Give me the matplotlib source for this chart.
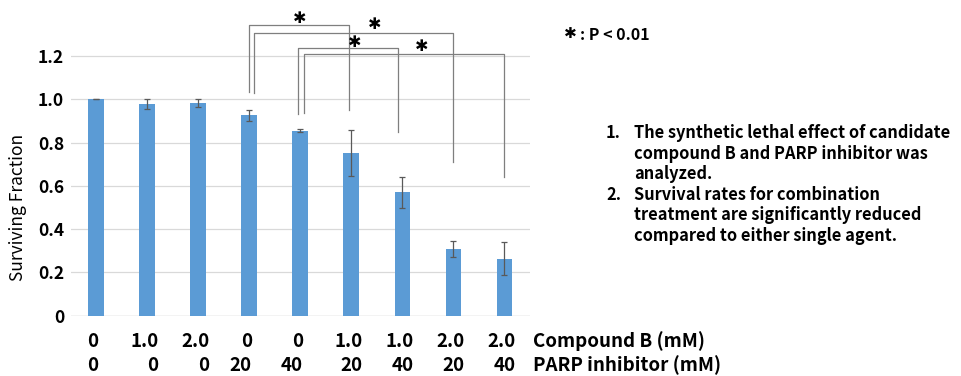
import matplotlib
matplotlib.use("Agg")
import matplotlib.pyplot as plt
from matplotlib.patches import Rectangle
from matplotlib.transforms import blended_transform_factory

plt.rcParams['font.family'] = ['Noto Sans CJK JP', 'DejaVu Sans']

# data
compound_b = ["0", "1.0", "2.0", "0", "0", "1.0", "1.0", "2.0", "2.0"]
parp = ["0", "0", "0", "20", "40", "20", "40", "20", "40"]
surviving = [1.000, 0.978, 0.983, 0.926, 0.855, 0.753, 0.570, 0.308, 0.263]
sd = [0.001, 0.021, 0.019, 0.025, 0.006, 0.106, 0.071, 0.038, 0.076]

# significance brackets (layout)
br_left = [3.0, 3.1, 3.95, 4.08]
br_right = [4.95, 7.0, 5.92, 8.0]
br_top = [1.342, 1.306, 1.238, 1.208]
br_left_end = [1.034, 1.030, 0.932, 0.935]
br_right_end = [0.951, 0.710, 0.849, 0.642]
star_x = [3.98, 5.46, 5.07, 6.37]
star_y = [1.374, 1.347, 1.263, 1.243]

W, H = 961, 376
fig = plt.figure(figsize=(W / 100, H / 100), dpi=100)


def fx(px):
    return px / W


def fy(py):
    return 1 - py / H


ax = fig.add_axes([fx(70.7), fy(315.7), fx(530) - fx(70.7), fy(12.7) - fy(315.7)])

x = range(len(surviving))
ax.bar(x, surviving, width=0.31, color="#5b9bd5", zorder=3)
ax.errorbar(x, surviving, yerr=sd, fmt="none", ecolor="#595959",
            elinewidth=0.9, capsize=2.5, capthick=0.9, zorder=4)

ax.set_xlim(-0.5, 8.5)
ax.set_ylim(0, 1.4)
ax.set_yticks([0, 0.2, 0.4, 0.6, 0.8, 1.0, 1.2])
ax.set_yticklabels(["0", "0.2", "0.4", "0.6", "0.8", "1.0", "1.2"],
                   fontsize=12.5, fontweight="bold")
ax.tick_params(axis="y", length=0, pad=4.8)
ax.set_xticks([])
ax.grid(axis="y", color="#d9d9d9", linewidth=0.9, zorder=0)
for s in ax.spines.values():
    s.set_visible(False)
ax.axhline(0, color="#d9d9d9", linewidth=1.0, zorder=1)

# gap in the 0.4 gridline
ax.add_patch(Rectangle((6.70, 0.39), 0.68, 0.02, facecolor="white",
                       edgecolor="none", zorder=1))

# brackets
for i in range(len(br_left)):
    ax.plot([br_left[i], br_left[i], br_right[i], br_right[i]],
            [br_left_end[i], br_top[i], br_top[i], br_right_end[i]],
            color="#7f7f7f", linewidth=0.9, zorder=5, clip_on=False)
    ax.text(star_x[i], star_y[i], "✱", ha="center", va="center",
            fontsize=11.5, family="DejaVu Sans", zorder=6)

# category labels
tr = blended_transform_factory(ax.transData, fig.transFigure)
row1 = []
for i, lbl in enumerate(compound_b):
    t = ax.text(i - 0.06, fy(347), lbl, transform=tr, ha="center",
                va="baseline", fontsize=13.5, fontweight="bold")
    row1.append(t)
fig.text(fx(533), fy(347), "Compound B (mM)", ha="left", va="baseline",
         fontsize=13.5, fontweight="bold")

fig.canvas.draw()
renderer = fig.canvas.get_renderer()
for t, lbl in zip(row1, parp):
    bb = t.get_window_extent(renderer)
    fig.text(bb.x1 / W, fy(371), lbl, ha="right", va="baseline",
             fontsize=13.5, fontweight="bold")
fig.text(fx(533), fy(371), "PARP inhibitor (mM)", ha="left", va="baseline",
         fontsize=13.5, fontweight="bold")

fig.text(fx(18), fy(207), "Surviving Fraction", rotation=90, ha="center",
         va="center", fontsize=12.5)

# notes
fig.text(fx(570), fy(34), "✱", ha="center", va="center",
         fontsize=11, family="DejaVu Sans")
fig.text(fx(580), fy(40), ": P < 0.01", ha="left", va="baseline",
         fontsize=11.5, fontweight="bold")
notes = [
    ("1.", "The synthetic lethal effect of candidate"),
    ("", "compound B and PARP inhibitor was"),
    ("", "analyzed."),
    ("2.", "Survival rates for combination"),
    ("", "treatment are significantly reduced"),
    ("", "compared to either single agent."),
]
for k, (num, line) in enumerate(notes):
    yb = fy(138.3 + 20.5 * k)
    if num:
        fig.text(fx(606), yb, num, ha="left", va="baseline",
                 fontsize=11.8, fontweight="bold")
    fig.text(fx(634), yb, line, ha="left", va="baseline",
             fontsize=11.8, fontweight="bold")

fig.savefig("out.png", dpi=100)
